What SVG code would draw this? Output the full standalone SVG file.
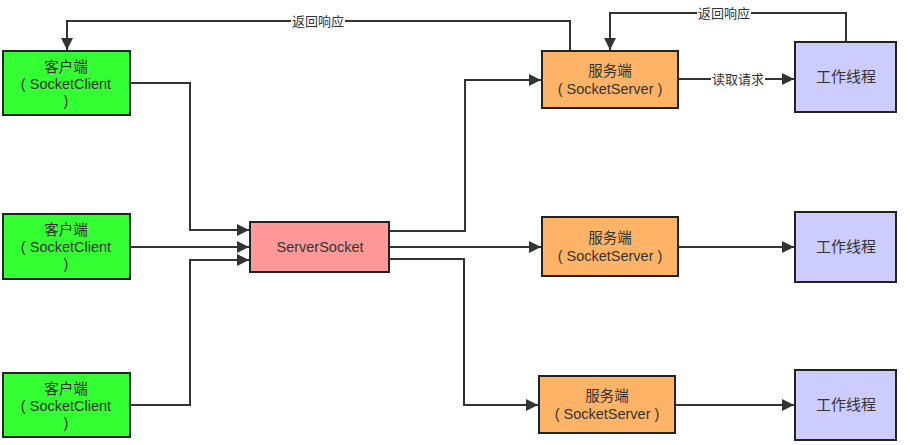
<svg xmlns="http://www.w3.org/2000/svg" width="910" height="445" viewBox="0 0 910 445">
<style>
.box{stroke:#222;stroke-width:2}
.client{fill:#33ff33}
.ss{fill:#ff9999}
.server{fill:#ffb366}
.worker{fill:#ccccff}
text{font-family:"Liberation Sans","Noto Sans CJK SC",sans-serif;font-size:14.5px;fill:#333;text-anchor:middle}
.sm{font-size:13px}
.big{font-size:15px}
.ln{fill:none;stroke:#333;stroke-width:2}
.lbl{fill:#fff}
</style>
<defs>
<marker id="arr" viewBox="0 0 10 10" refX="10" refY="5" markerWidth="6.5" markerHeight="6" orient="auto" markerUnits="strokeWidth">
<path d="M0,0 L10,5 L0,10 z" fill="#333"/>
</marker>
</defs>
<rect width="910" height="445" fill="#fff"/>
<g id="connectors">
<polyline class="ln" points="130,83 190,83 190,230 249,230" marker-end="url(#arr)"/>
<polyline class="ln" points="130,247 249,247" marker-end="url(#arr)"/>
<polyline class="ln" points="130,405 190,405 190,260 249,260" marker-end="url(#arr)"/>
<polyline class="ln" points="389,231 465,231 465,80 541,80" marker-end="url(#arr)"/>
<polyline class="ln" points="389,247 541,247" marker-end="url(#arr)"/>
<polyline class="ln" points="389,259 464,259 464,405 538,405" marker-end="url(#arr)"/>
<polyline class="ln" points="678,79 794,79" marker-end="url(#arr)"/>
<polyline class="ln" points="678,247 794,247" marker-end="url(#arr)"/>
<polyline class="ln" points="675,405 794,405" marker-end="url(#arr)"/>
<polyline class="ln" points="846,42 846,13 610,13 610,50" marker-end="url(#arr)"/>
<polyline class="ln" points="570,51 570,21 67,21 67,50" marker-end="url(#arr)"/>
<rect class="lbl" x="291" y="13" width="54" height="16"/>
<text class="sm" x="318" y="26">返回响应</text>
<rect class="lbl" x="697" y="5" width="54" height="16"/>
<text class="sm" x="724" y="18">返回响应</text>
<rect class="lbl" x="711" y="71" width="54" height="16"/>
<text class="sm" x="738" y="84">读取请求</text>
</g>
<g id="client1">
<rect class="box client" x="3" y="51" width="127" height="64"/>
<text x="66" y="72">客户端</text>
<text x="66" y="89">( SocketClient</text>
<text x="66" y="106">)</text>
</g>
<g id="client2">
<rect class="box client" x="3" y="214" width="127" height="65"/>
<text x="66" y="235">客户端</text>
<text x="66" y="252">( SocketClient</text>
<text x="66" y="269">)</text>
</g>
<g id="client3">
<rect class="box client" x="3" y="373" width="127" height="64"/>
<text x="66" y="394">客户端</text>
<text x="66" y="411">( SocketClient</text>
<text x="66" y="428">)</text>
</g>
<g id="serversocket">
<rect class="box ss" x="250" y="222" width="139" height="50"/>
<text x="320" y="252">ServerSocket</text>
</g>
<g id="server1">
<rect class="box server" x="542" y="51" width="136" height="57"/>
<text x="610" y="76">服务端</text>
<text x="610" y="94">( SocketServer )</text>
</g>
<g id="server2">
<rect class="box server" x="542" y="217" width="136" height="59"/>
<text x="610" y="243">服务端</text>
<text x="610" y="261">( SocketServer )</text>
</g>
<g id="server3">
<rect class="box server" x="539" y="376" width="136" height="57"/>
<text x="607" y="401">服务端</text>
<text x="607" y="419">( SocketServer )</text>
</g>
<g id="worker1">
<rect class="box worker" x="795" y="42" width="101" height="70"/>
<text class="big" x="846" y="82">工作线程</text>
</g>
<g id="worker2">
<rect class="box worker" x="795" y="212" width="101" height="70"/>
<text class="big" x="846" y="252">工作线程</text>
</g>
<g id="worker3">
<rect class="box worker" x="795" y="370" width="101" height="70"/>
<text class="big" x="846" y="410">工作线程</text>
</g>
</svg>
